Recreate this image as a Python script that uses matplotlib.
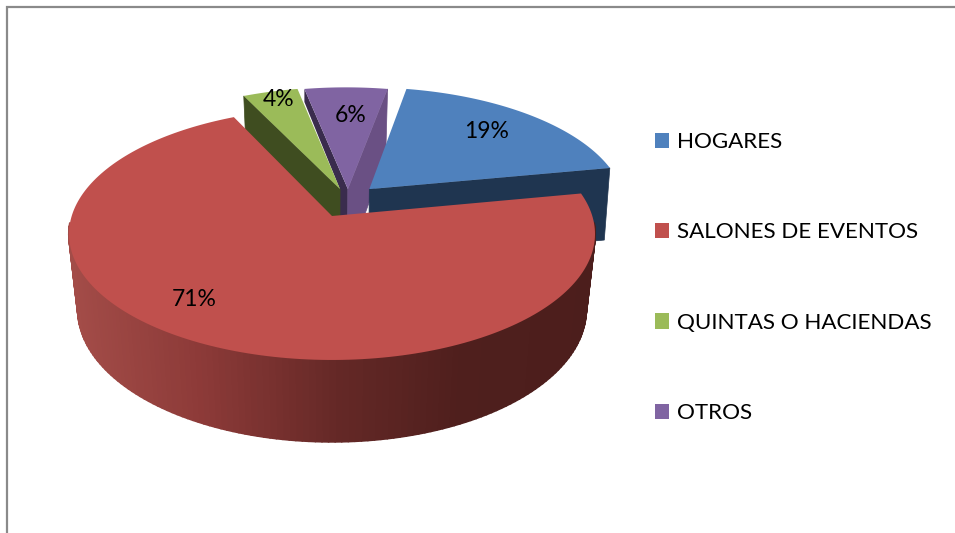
import matplotlib
matplotlib.use("Agg")
import matplotlib.pyplot as plt
import numpy as np
from matplotlib.collections import PolyCollection
from matplotlib.colors import to_rgb
from matplotlib.patches import Patch, Polygon

categories = ["HOGARES", "SALONES DE EVENTOS", "QUINTAS O HACIENDAS", "OTROS"]
values = [19, 71, 4, 6]
labels = ["19%", "71%", "4%", "6%"]

top_colors = ["#4f81bd", "#c0504d", "#9bbb59", "#8064a2"]
label_pos = [(487, 132), (194, 299), (279, 99), (351, 116)]
# how far each slice is pulled out, in the plane of the pie
explode = [(0.148, 0.225), (0.0, 0.0), (0.032, 0.225), (0.063, 0.225)]

START = 79.2  # degrees, slices run clockwise
CX, CY = 332, 216
F, G, K = 260.3, 123.4, 0.1429  # perspective of the pie plane
SX, SY, DEPTH = 0.966, 1.05, 74.5  # lower face relative to upper face


def project(u, v):
    d = 1 + K * v
    return CX + F * u / d, CY - G * v / d


def lower(x, y, sx=SX):
    return CX + sx * (x - CX), CY + DEPTH + SY * (y - CY)


def slice_xy(a0, a1, off, n=200):
    t = np.radians(np.linspace(a0, a1, n))
    return project(np.cos(t) + off[0], np.sin(t) + off[1])


def wall(ax, p, q, color, zorder, sx=SX):
    x = np.array([p[0], q[0]])
    y = np.array([p[1], q[1]])
    xb, yb = lower(x, y, sx)
    pts = np.column_stack([np.r_[x, xb[::-1]], np.r_[y, yb[::-1]]])
    ax.add_patch(Polygon(pts, closed=True, fc=color, ec=color, lw=0.5, zorder=zorder))


fig = plt.figure(figsize=(9.55, 5.33), dpi=100)
ax = fig.add_axes([0, 0, 1, 1])
ax.set_xlim(0, 955)
ax.set_ylim(533, 0)
ax.axis("off")

# outer chart frame, only left and top are inside the crop
ax.plot([7, 7, 955], [533, 6.5, 6.5], color="#8a8a8a", lw=1.6, solid_joinstyle="miter")

plt.rcParams["font.family"] = ["Lato", "DejaVu Sans"]

angles = START - np.cumsum([0] + values) * 3.6
faces = {}
for i in range(len(values)):
    x, y = slice_xy(angles[i], angles[i + 1], explode[i])
    ax0, ay0 = project(*explode[i])
    faces[i] = (np.r_[ax0, x], np.r_[ay0, y], (ax0, ay0))

hog, sal, qui, otr = 0, 1, 2, 3

# thin dark wall on the left of the purple slice, seen almost edge on
ox, oy = faces[otr][0][1], faces[otr][1][1]
px, py = faces[otr][2]
thin = [(ox, oy), (px, py), (px, py + 40), (px - 9, py + 40), (px - 8, py), (ox, oy + 13)]
ax.add_patch(Polygon(thin, fc="#3a2c4d", ec="none", zorder=2))
wall(ax, faces[otr][2], (faces[otr][0][-1], faces[otr][1][-1]), "#6a5084", 3)
wall(ax, faces[qui][2], (faces[qui][0][1], faces[qui][1][1]), "#3f4d20", 3)
ax.add_patch(Polygon(np.column_stack(faces[qui][:2]), fc=top_colors[qui], ec="none", zorder=4))
ax.add_patch(Polygon(np.column_stack(faces[otr][:2]), fc=top_colors[otr], ec="none", zorder=4))
wall(ax, faces[hog][2], (faces[hog][0][-1], faces[hog][1][-1]), "#1f3550", 5, sx=0.98)
ax.add_patch(Polygon(np.column_stack(faces[hog][:2]), fc=top_colors[hog], ec="none", zorder=6))

# rim of the big slice, shaded from left to right, front part only
rx, ry = faces[sal][0][1:], faces[sal][1][1:]
front = ry > CY + 5
rx, ry = rx[front], ry[front]
bx, by = lower(rx, ry)
quads = [
    [(rx[j], ry[j]), (rx[j + 1], ry[j + 1]), (bx[j + 1], by[j + 1]), (bx[j], by[j])]
    for j in range(len(rx) - 1)
]
mid = (rx[:-1] + rx[1:]) / 2
stops = np.array([to_rgb(c) for c in ["#a34c48", "#8c3a38", "#642826", "#4f1f1d", "#4c1e1c"]])
shade = np.column_stack(
    [np.interp(mid, [70, 200, 340, 460, 600], stops[:, k]) for k in range(3)]
)
ax.add_collection(PolyCollection(quads, facecolors=shade, edgecolors=shade, linewidths=1.5, zorder=7))
ax.add_patch(Polygon(np.column_stack(faces[sal][:2]), fc=top_colors[sal], ec="none", zorder=8))

for lab, (lx, ly) in zip(labels, label_pos):
    ax.text(lx, ly, lab, ha="center", va="center", fontsize=16.5, color="black", zorder=10)

handles = [Patch(fc=c, ec="none") for c in top_colors]
ax.legend(
    handles,
    categories,
    loc="upper left",
    bbox_to_anchor=(654.5 / 955, 1 - 132 / 533),
    frameon=False,
    fontsize=16.1,
    handlelength=0.67,
    handleheight=0.67,
    handletextpad=0.32,
    labelspacing=3.15,
    borderpad=0,
    borderaxespad=0,
)

fig.savefig("out.png", dpi=100)
